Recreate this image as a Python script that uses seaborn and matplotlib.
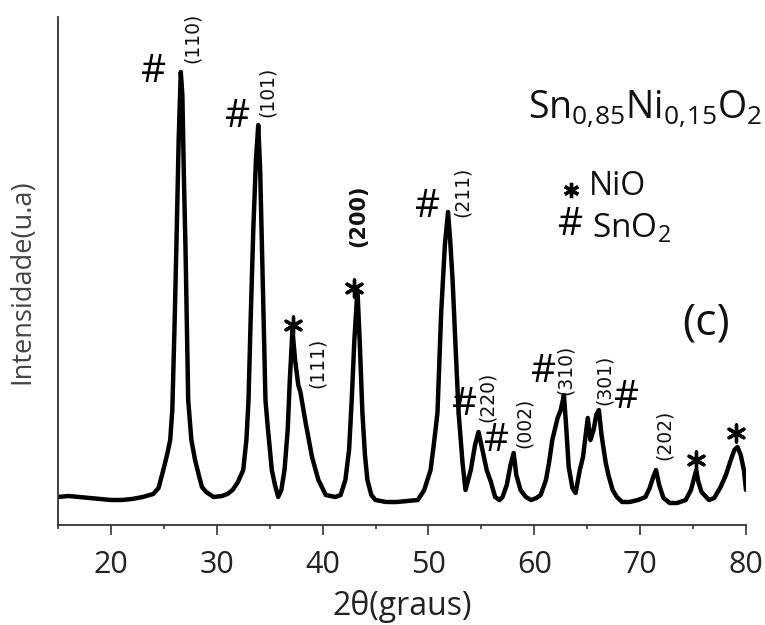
import matplotlib
matplotlib.use('Agg')
import matplotlib.pyplot as plt
import seaborn as sns

# padrão de DRX: 2θ (graus) e intensidade (u.a.)
two_theta = [15.0, 16.0, 17.0, 18.0, 19.0, 20.0, 21.0, 22.0, 23.0, 24.0,
             24.5, 24.9, 25.3, 25.6, 25.8, 26.0, 26.2, 26.4, 26.6, 26.75,
             26.9, 27.05, 27.3, 27.6, 27.95, 28.3, 28.6, 29.0, 29.7, 30.5,
             31.0, 31.5, 32.0, 32.5, 32.8, 33.0, 33.2, 33.45, 33.7, 33.92,
             34.1, 34.3, 34.45, 34.6, 34.8, 35.2, 35.5, 35.8, 36.1, 36.4,
             36.7, 36.9, 37.15, 37.4, 37.7, 37.9, 38.4, 39.0, 39.6, 40.3,
             41.2, 41.7, 42.15, 42.5, 42.75, 43.0, 43.29, 43.5, 43.76, 44.0,
             44.23, 44.6, 45.0, 46.0, 47.0, 48.0, 49.0, 49.6, 50.2, 50.5,
             50.85, 51.2, 51.55, 51.85, 52.05, 52.28, 52.56, 52.85, 53.22, 53.5,
             54.0, 54.4, 54.73, 55.1, 55.5, 55.9, 56.3, 56.7, 57.0, 57.4,
             57.75, 58.05, 58.3, 58.7, 59.2, 59.7, 60.2, 60.6, 61.1, 61.4,
             61.7, 62.2, 62.5, 62.8, 63.0, 63.25, 63.6, 63.9, 64.3, 64.6,
             64.85, 65.05, 65.3, 65.6, 65.85, 66.1, 66.35, 66.75, 67.0, 67.4,
             67.8, 68.3, 69.0, 69.8, 70.5, 70.9, 71.2, 71.5, 71.8, 72.2,
             72.8, 73.5, 74.3, 74.8, 75.1, 75.3, 75.5, 75.8, 76.5, 77.0,
             77.6, 78.1, 78.5, 78.9, 79.2, 79.5, 79.8, 80.0]
intensidade = [28, 29, 28, 27, 26, 25, 25, 26, 28, 31,
               37, 53, 70, 85, 115, 195, 285, 385, 453, 430,
               345, 275, 125, 85, 65, 50, 38, 33, 28, 29,
               31, 35, 43, 55, 85, 125, 205, 295, 365, 400,
               355, 265, 195, 125, 100, 55, 40, 28, 35, 55,
               95, 145, 195, 165, 140, 133, 102, 68, 45, 30,
               28, 30, 45, 75, 125, 185, 235, 185, 112, 70,
               45, 30, 25, 23, 23, 24, 25, 35, 55, 80,
               112, 212, 280, 313, 285, 245, 178, 112, 62, 35,
               55, 80, 93, 75, 55, 43, 28, 25, 28, 40,
               60, 72, 50, 35, 28, 25, 27, 30, 45, 63,
               85, 107, 115, 130, 100, 58, 37, 32, 55, 68,
               90, 107, 85, 95, 110, 115, 90, 62, 50, 35,
               28, 23, 23, 25, 28, 37, 47, 55, 40, 27,
               22, 22, 25, 35, 47, 55, 43, 33, 25, 27,
               38, 50, 63, 75, 78, 70, 55, 35]

# índices (hkl): posição 2θ e altura da base do rótulo
hkl_labels = ['(110)', '(101)', '(111)', '(200)', '(211)', '(220)',
              '(002)', '(310)', '(301)', '(202)']
hkl_x = [27.68, 34.77, 39.5, 43.38, 53.22, 55.59, 59.09, 62.97, 66.66, 72.33]
hkl_y = [462, 408, 137, 278, 308, 103, 77, 130, 120, 65]

# picos de SnO2 (#) e NiO (*)
sno2_x = [23.99, 31.93, 49.91, 53.45, 56.4, 60.88, 68.75]
sno2_y = [453, 408, 318, 120, 84, 153, 127]
nio_x = [37.23, 43.0, 75.26, 79.05]
nio_y = [200, 237, 65, 92]

sns.set_theme(style='white')
plt.rcParams['font.family'] = ['Open Sans', 'DejaVu Sans']
plt.rcParams['mathtext.fontset'] = 'custom'
plt.rcParams['mathtext.rm'] = 'Open Sans'
plt.rcParams['mathtext.it'] = 'Open Sans'

fig = plt.figure(figsize=(7.65, 6.25), dpi=100)
ax = fig.add_axes([58 / 765, 1 - 525 / 625, 688 / 765, 508 / 625])

sns.lineplot(x=two_theta, y=intensidade, ax=ax, color='black',
             linewidth=3.2, sort=False, estimator=None)

ax.set_xlim(15, 80)
ax.set_ylim(0, 508)
ax.set_xticks(range(20, 81, 10))
ax.set_xticks(range(15, 80, 10), minor=True)
ax.set_yticks([])
ax.tick_params(axis='x', which='major', direction='out', length=7, width=1.2,
               color='#333333', labelsize=22, labelcolor='#222222', pad=11,
               bottom=True)
ax.tick_params(axis='x', which='minor', direction='out', length=3, width=1.2,
               color='#333333', bottom=True)
for side in ['top', 'right']:
    ax.spines[side].set_visible(False)
for side in ['left', 'bottom']:
    ax.spines[side].set_color('#333333')
    ax.spines[side].set_linewidth(1.3)

ax.set_xlabel('2θ(graus)', fontsize=23, color='#222222', labelpad=7)
ax.set_ylabel('Intensidade(u.a)', fontsize=19.5, color='#444444')
ax.yaxis.set_label_coords(-0.031, 0.478)

for lab, x, y in zip(hkl_labels, hkl_x, hkl_y):
    bold = lab == '(200)'
    ax.text(x, y, lab, rotation=90, ha='center', va='bottom',
            fontsize=15 if bold else 13.5, fontweight='bold' if bold else 'normal',
            family='DejaVu Sans', color='#111111')

for x, y in zip(sno2_x, sno2_y):
    ax.text(x, y, '#', ha='center', va='center', fontsize=28, color='black')
ax.scatter(nio_x, nio_y, marker=(6, 2, 0), s=150, color='black',
           linewidths=2.4, zorder=5)

# título e legenda
fig.text(528 / 765, 1 - 118 / 625,
         r'Sn$_{0,\!85}$Ni$_{0,\!15}$O$_{2}$', fontsize=27, ha='left',
         va='baseline', color='#111111')
fig.text(682 / 765, 1 - 323 / 625, '(c)', fontsize=32, ha='left',
         va='center', color='#111111')
fig.text(589 / 765, 1 - 195 / 625, 'NiO', fontsize=23, ha='left',
         va='baseline', color='#111111')
fig.text(592 / 765, 1 - 238 / 625, r'SnO$_2$', fontsize=24, ha='left',
         va='baseline', color='#111111')
fig.text(571 / 765, 1 - 225 / 625, '#', fontsize=28, ha='center',
         va='center', color='black')
fig.add_artist(plt.Line2D([571 / 765], [1 - 190 / 625], marker=(6, 2, 0),
                          markersize=11, markeredgewidth=2.4, color='black',
                          transform=fig.transFigure))

fig.savefig('out.png', dpi=100)
